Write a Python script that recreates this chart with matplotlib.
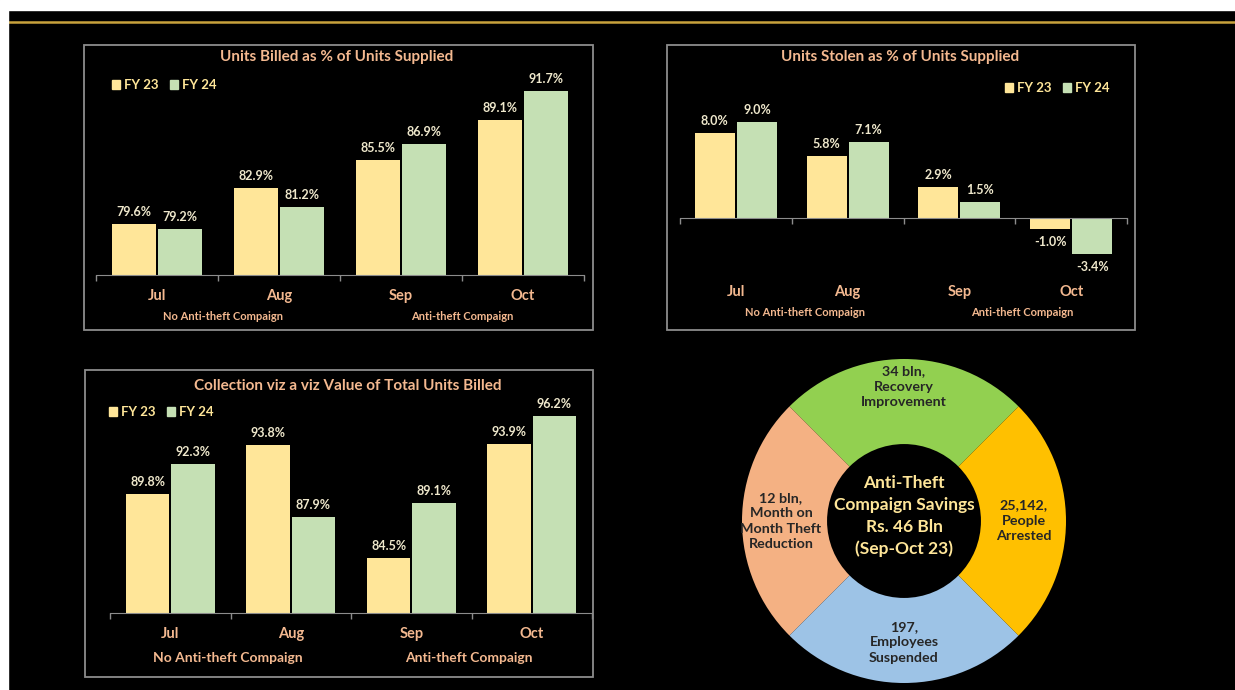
import numpy as np
import matplotlib.pyplot as plt
from matplotlib.patches import Rectangle, Patch
from matplotlib.lines import Line2D

plt.rcParams['font.family'] = ['Lato', 'DejaVu Sans']
plt.rcParams['font.weight'] = 'bold'

W, H = 1235, 690

months = ['Jul', 'Aug', 'Sep', 'Oct']
groups = ['No Anti-theft Compaign', 'Anti-theft Compaign']
series = ['FY 23', 'FY 24']

billed_fy23 = [79.6, 82.9, 85.5, 89.1]
billed_fy24 = [79.2, 81.2, 86.9, 91.7]

stolen_fy23 = [8.0, 5.8, 2.9, -1.0]
stolen_fy24 = [9.0, 7.1, 1.5, -3.4]

collect_fy23 = [89.8, 93.8, 84.5, 93.9]
collect_fy24 = [92.3, 87.9, 89.1, 96.2]

donut_labels = ['34 bln,\nRecovery\nImprovement',
                '12 bln,\nMonth on\nMonth Theft\nReduction',
                '197,\nEmployees\nSuspended',
                '25,142,\nPeople\nArrested']
donut_weights = [1, 1, 1, 1]
donut_center = 'Anti-Theft\nCompaign Savings\nRs. 46 Bln\n(Sep-Oct 23)'

c23 = '#FFE699'
c24 = '#C5E0B4'
peach = '#F4B990'
cream = '#EFE8CC'
grey = '#8C8C8C'


def fx(x):
    return x / W


def fy(y):
    return 1 - y / H


fig = plt.figure(figsize=(W / 100, H / 100), dpi=100)
fig.patch.set_facecolor('black')

# white strips and gold rule at the top
fig.add_artist(Rectangle((0, fy(10)), 1, 10 / H, transform=fig.transFigure,
                         color='white', zorder=5))
fig.add_artist(Rectangle((0, 0), fx(8), 1, transform=fig.transFigure,
                         color='white', zorder=5))
fig.add_artist(Line2D([fx(8), 1], [fy(22), fy(22)], transform=fig.transFigure,
                      color='#C8A23C', lw=1.8))


def panel_box(x0, y0, x1, y1):
    fig.add_artist(Rectangle((fx(x0), fy(y1)), fx(x1 - x0), (y1 - y0) / H,
                             transform=fig.transFigure, fill=False,
                             edgecolor=grey, lw=1.3))


def bar_panel(rect, ylim, base, v23, v24, title, title_y, leg_xy,
              cat_off, grp_off, grp_x, grp_size):
    x0, y0, x1, y1 = rect
    ax = fig.add_axes([fx(x0), fy(y1), fx(x1 - x0), (y1 - y0) / H])
    ax.set_facecolor('black')
    x = np.arange(len(months))
    w = 0.36
    b1 = ax.bar(x - w / 2 - 0.008, np.array(v23) - base, w, bottom=base, color=c23)
    b2 = ax.bar(x + w / 2 + 0.008, np.array(v24) - base, w, bottom=base, color=c24)
    ax.set_xlim(-0.5, 3.5)
    ax.set_ylim(*ylim)
    for s in ['top', 'right', 'left']:
        ax.spines[s].set_visible(False)
    ax.spines['bottom'].set_position(('data', base))
    ax.spines['bottom'].set_color(grey)
    ax.set_yticks([])
    ax.set_xticks(np.arange(-0.5, 4, 1))
    ax.set_xticklabels([])
    ax.tick_params(axis='x', color=grey, length=4, width=1, direction='out')
    for bars, vals in ((b1, v23), (b2, v24)):
        for r, v in zip(bars, vals):
            off = 12 if v >= base else -13
            ax.annotate(f'{v:.1f}%', (r.get_x() + r.get_width() / 2, v),
                        xytext=(0, off * 0.72), textcoords='offset points',
                        ha='center', va='center', color=cream, fontsize=9,
                        annotation_clip=False)
    for i, m in enumerate(months):
        ax.annotate(m, (i, base), xytext=(0, -cat_off * 0.72),
                    textcoords='offset points', ha='center', va='center',
                    color=peach, fontsize=10.5, annotation_clip=False)
    for g, gx in zip(groups, grp_x):
        ax.annotate(g, (gx, base), xytext=(0, -grp_off * 0.72),
                    textcoords='offset points', ha='center', va='center',
                    color=peach, fontsize=grp_size, annotation_clip=False)
    fig.text(fx((x0 + x1) / 2 - 3), fy(title_y), title, ha='center', va='center',
             color=peach, fontsize=11)
    handles = [Patch(color=c23, label=series[0]), Patch(color=c24, label=series[1])]
    ax.legend(handles=handles, loc='center left', ncol=2, frameon=False,
              bbox_to_anchor=(fx(leg_xy[0]), fy(leg_xy[1])),
              bbox_transform=fig.transFigure, handlelength=0.6, handleheight=0.6,
              handletextpad=0.3, columnspacing=0.9, borderaxespad=0,
              borderpad=0, labelcolor=c23, prop={'size': 9.5, 'weight': 'bold'})
    return ax


panel_box(84, 45, 593, 330)
panel_box(667, 45, 1135, 330)
panel_box(85, 370, 593, 677)

bar_panel((96, 55, 584, 275), (75, 95), 75, billed_fy23, billed_fy24,
          'Units Billed as % of Units Supplied', 57, (112, 85),
          21, 41, [0.54, 2.5], 8)
bar_panel((680, 111.5, 1127, 260.6), (-4, 10), 0, stolen_fy23, stolen_fy24,
          'Units Stolen as % of Units Supplied', 57, (1005, 88),
          74, 95, [0.62, 2.56], 8)
bar_panel((110, 394.5, 592, 613), (80, 98), 80, collect_fy23, collect_fy24,
          'Collection viz a viz Value of Total Units Billed', 386, (109, 412),
          21, 45, [0.48, 2.48], 10)

# donut
cx, cy, R = 904, 521, 162
axd = fig.add_axes([fx(cx - R), fy(cy + R), fx(2 * R), 2 * R / H])
axd.set_facecolor('black')
axd.pie(donut_weights, startangle=45, counterclock=True, radius=1,
        colors=['#92D050', '#F4B183', '#9DC3E6', '#FFC000'],
        wedgeprops=dict(width=0.525, linewidth=0))
axd.set_xlim(-1, 1)
axd.set_ylim(-1, 1)
axd.set_aspect('equal')
axd.axis('off')
angles = [90, 180, 270, 0]
radii = [0.83, 0.76, 0.75, 0.74]
for lab, a, r in zip(donut_labels, angles, radii):
    t = np.deg2rad(a)
    axd.text(r * np.cos(t), r * np.sin(t), lab, ha='center', va='center',
             color='#262626', fontsize=10.3, linespacing=1.35)
axd.text(0, 0.03, donut_center, ha='center', va='center', color=c23,
         fontsize=12.5, linespacing=1.45)

fig.savefig('out.png', dpi=100, facecolor=fig.get_facecolor())
